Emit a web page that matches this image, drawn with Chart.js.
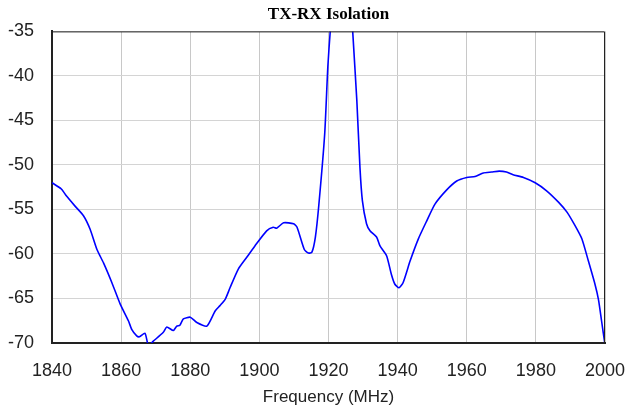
<!DOCTYPE html>
<html>
<head>
  <title>TX-RX Isolation</title>
  <script src="https://cdn.jsdelivr.net/npm/chart.js"></script>
  <style>
    body { margin: 0; background: #fff; }
    #wrap { width: 629px; height: 414px; }
  </style>
</head>
<body>
  <div id="wrap"><canvas id="isoChart" width="629" height="414"></canvas></div>

  <script>
    // frequency points (MHz)
    const freq = [1840, 1842.7, 1844.2, 1846.6, 1849.1, 1851, 1853, 1854.9, 1857.3, 1859.7,
      1862.1, 1863.1, 1864.5, 1865.3, 1866.9, 1867.9, 1869.3, 1872.2, 1873.2, 1875.1,
      1876.1, 1877, 1878, 1880, 1881.9, 1884.8, 1887.2, 1888.6, 1890.1, 1891.5,
      1893.9, 1896.3, 1898.7, 1902.1, 1904, 1905, 1907, 1909.9, 1910.9, 1913,
      1914.2, 1915.2, 1916.2, 1917.2, 1918.9, 1919.8, 1920.5, 1921.5, 1923, 1925,
      1926.5, 1927, 1928.2, 1929.1, 1929.8, 1931, 1932, 1933.9, 1934.9, 1936.8,
      1938.2, 1939.2, 1940.4, 1941.6, 1943.6, 1946, 1948.4, 1950.8, 1954.2, 1957.1,
      1960, 1962.4, 1964.8, 1967.2, 1969.4, 1971.5, 1973.4, 1976.4, 1979.8, 1983.1,
      1986.6, 1989, 1991.3, 1993.3, 1995.2, 1997.1, 1998.1, 1999, 2000];

    // isolation (dB)
    const isolation = [-52.0, -52.7, -53.5, -54.6, -55.7, -57.2, -59.5, -61.0, -63.2, -65.6,
      -67.5, -68.5, -69.2, -69.3, -68.9, -70.3, -69.8, -68.8, -68.2, -68.6,
      -68.1, -68.0, -67.3, -67.1, -67.7, -68.1, -66.4, -65.8, -65.1, -63.8,
      -61.7, -60.4, -59.1, -57.4, -57.0, -57.1, -56.5, -56.6, -57.0, -59.5,
      -59.9, -59.8, -58.1, -54.5, -46.5, -39.0, -35.0, -31, -29, -29,
      -31.5, -35.0, -42.8, -50.3, -54.0, -56.6, -57.4, -58.1, -59.1, -60.2,
      -62.3, -63.4, -63.8, -63.2, -60.8, -58.3, -56.3, -54.4, -52.8, -51.8,
      -51.4, -51.3, -50.9, -50.8, -50.7, -50.8, -51.1, -51.4, -52.0, -52.9,
      -54.2, -55.3, -56.8, -58.3, -60.8, -63.4, -65.1, -67.5, -70.2];

    const xTicks = [1840, 1860, 1880, 1900, 1920, 1940, 1960, 1980, 2000];
    const yTicks = [-70, -65, -60, -55, -50, -45, -40, -35];

    // top and right edges of the plot box
    const frame = {
      id: 'frame',
      afterDraw(chart) {
        const a = chart.chartArea, c = chart.ctx;
        c.save();
        c.strokeStyle = '#222';
        c.lineWidth = 1;
        c.beginPath();
        c.moveTo(a.left, a.top + 0.5);
        c.lineTo(a.right - 0.5, a.top + 0.5);
        c.lineTo(a.right - 0.5, a.bottom);
        c.stroke();
        c.restore();
      }
    };

    new Chart(document.getElementById('isoChart'), {
      type: 'line',
      data: {
        datasets: [{
          data: freq.map((f, i) => ({ x: f, y: isolation[i] })),
          borderColor: '#0000ff',
          borderWidth: 1.6,
          pointRadius: 0,
          tension: 0.2,
          fill: false,
          clip: 0
        }]
      },
      options: {
        responsive: false,
        animation: false,
        layout: { padding: { left: 8, right: 24, bottom: 6 } },
        plugins: {
          legend: { display: false },
          tooltip: { enabled: false },
          title: {
            display: true,
            text: 'TX-RX Isolation',
            fullSize: false,
            color: '#000',
            font: { family: 'Liberation Serif', size: 17, weight: 'bold' },
            padding: { top: 4, bottom: 7 }
          }
        },
        scales: {
          x: {
            type: 'linear',
            min: xTicks[0],
            max: xTicks[xTicks.length - 1],
            afterBuildTicks: s => { s.ticks = xTicks.map(v => ({ value: v })); },
            grid: { color: '#c8c8c8', drawTicks: true, tickLength: 17, tickColor: 'rgba(0,0,0,0)' },
            border: { color: '#222', width: 2 },
            ticks: {
              color: '#222',
              padding: 0,
              maxRotation: 0,
              font: { family: 'Liberation Sans', size: 18 },
              callback: v => String(v)
            },
            title: {
              display: true,
              text: 'Frequency (MHz)',
              color: '#222',
              font: { family: 'Liberation Sans', size: 17 },
              padding: { top: 6, bottom: 0 }
            }
          },
          y: {
            min: yTicks[0],
            max: yTicks[yTicks.length - 1],
            afterBuildTicks: s => { s.ticks = yTicks.map(v => ({ value: v })); },
            grid: { color: '#d4d4d4', drawTicks: true, tickLength: 18, tickColor: 'rgba(0,0,0,0)' },
            border: { color: '#222', width: 2 },
            ticks: {
              color: '#222',
              padding: 0,
              font: { family: 'Liberation Sans', size: 18 },
              callback: v => String(v)
            }
          }
        }
      },
      plugins: [frame]
    });
  </script>
</body>
</html>
